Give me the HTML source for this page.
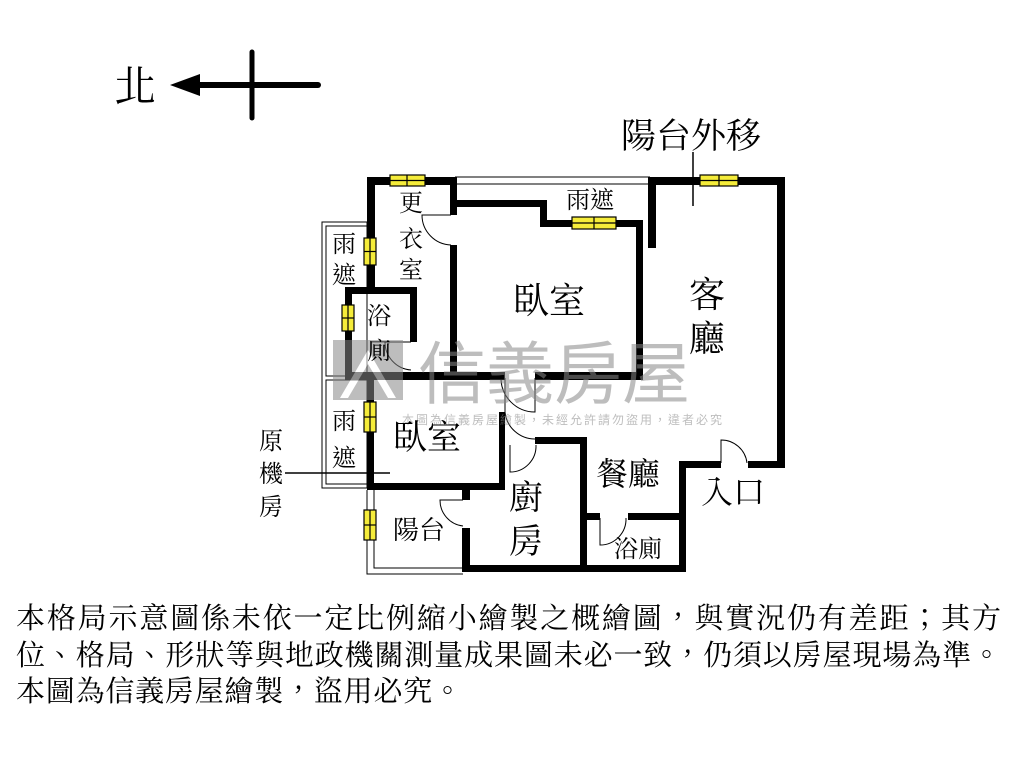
<!DOCTYPE html>
<html><head><meta charset="utf-8"><style>
html,body{margin:0;padding:0;background:#fff;width:1024px;height:768px;overflow:hidden}
svg{display:block}
.s{font-family:"Liberation Serif","Noto Serif CJK TC","Noto Serif CJK SC",serif;fill:#000}
</style></head><body>
<svg width="1024" height="768" viewBox="0 0 1024 768" xmlns="http://www.w3.org/2000/svg">
<text x="114" y="101" class="s" font-size="42">北</text>
<line x1="195" y1="85" x2="318" y2="85" stroke="#000" stroke-width="6" stroke-linecap="round"/>
<polygon points="170,85 200,74 200,96" fill="#000"/>
<line x1="252" y1="52" x2="252" y2="118" stroke="#000" stroke-width="5" stroke-linecap="round"/>

<text x="621" y="148" class="s" font-size="35">陽台外移</text>
<line x1="693" y1="152" x2="693" y2="206" stroke="#000" stroke-width="1.5"/>

<g fill="none" stroke="#000" stroke-width="1">
<rect x="322" y="222" width="45" height="266"/>
<rect x="326" y="226" width="41" height="150"/>
<rect x="326" y="380" width="41" height="104"/>
<line x1="455" y1="177" x2="650" y2="177"/>
<line x1="455" y1="184" x2="650" y2="184"/>
<polyline points="367,490 367,574 463,574"/>
<polyline points="374,490 374,568 463,568"/>
</g>

<g fill="#000">
<rect x="367" y="177" width="88" height="8"/>
<rect x="650" y="177" width="135" height="8"/>
<rect x="777" y="177" width="8" height="291"/>
<rect x="648" y="177" width="8" height="71"/>
<rect x="367" y="177" width="8" height="116"/>
<rect x="345" y="287" width="72" height="7"/>
<rect x="345" y="287" width="7" height="93"/>
<rect x="410" y="287" width="7" height="55"/>
<rect x="345" y="372" width="160" height="8"/>
<rect x="535" y="372" width="108" height="8"/>
<rect x="450" y="177" width="7" height="38"/>
<rect x="450" y="245" width="7" height="135"/>
<rect x="450" y="200" width="95" height="7"/>
<rect x="540" y="200" width="7" height="27"/>
<rect x="540" y="220" width="103" height="7"/>
<rect x="636" y="220" width="7" height="160"/>
<rect x="367" y="380" width="7" height="110"/>
<rect x="367" y="483" width="138" height="7"/>
<rect x="499" y="412" width="6" height="78"/>
<rect x="535" y="437" width="52" height="7"/>
<rect x="580" y="437" width="7" height="135"/>
<rect x="462" y="490" width="8" height="10"/>
<rect x="462" y="528" width="8" height="44"/>
<rect x="462" y="565" width="224" height="7"/>
<rect x="587" y="513" width="13" height="7"/>
<rect x="628" y="513" width="58" height="7"/>
<rect x="679" y="461" width="7" height="111"/>
<rect x="679" y="461" width="42" height="7"/>
<rect x="748" y="461" width="37" height="7"/>
</g>

<g fill="#f5ec3a" stroke="#000" stroke-width="1.2">
<rect x="390" y="175" width="35" height="11"/><line x1="407" y1="175" x2="407" y2="186"/><line x1="390" y1="180.5" x2="425" y2="180.5"/>
<rect x="700" y="175" width="38" height="11"/><line x1="719" y1="175" x2="719" y2="186"/><line x1="700" y1="180.5" x2="738" y2="180.5"/>
<rect x="572" y="217" width="44" height="12"/><line x1="594" y1="217" x2="594" y2="229"/><line x1="572" y1="223" x2="616" y2="223"/>
<rect x="364" y="238" width="12" height="27"/><line x1="370" y1="238" x2="370" y2="265"/><line x1="364" y1="251.5" x2="376" y2="251.5"/>
<rect x="342" y="305" width="12" height="26"/><line x1="348" y1="305" x2="348" y2="331"/><line x1="342" y1="318" x2="354" y2="318"/>
<rect x="364" y="402" width="12" height="30"/><line x1="370" y1="402" x2="370" y2="432"/><line x1="364" y1="417" x2="376" y2="417"/>
<rect x="364" y="510" width="12" height="30"/><line x1="370" y1="510" x2="370" y2="540"/><line x1="364" y1="525" x2="376" y2="525"/>
</g>

<g fill="none" stroke="#000" stroke-width="1">
<path d="M451,215 L422,215 A30,30 0 0 0 451,245"/>
<path d="M411,342 L385,342 A28,28 0 0 0 411,370"/>
<path d="M535,378 L535,412 A34,34 0 0 1 501,378"/>
<path d="M505,378 L505,412"/>
<path d="M505,412 A30,30 0 0 0 535,439"/>
<path d="M510,445 L510,472 A26,26 0 0 0 536,445"/>
<path d="M463,500 L440,500 A26,26 0 0 0 463,526"/>
<path d="M600,518 L600,545 A26,26 0 0 0 626,518"/>
<path d="M721,463 L721,440 A26,26 0 0 1 747,463"/>
</g>

<g opacity="0.55">
<rect x="333" y="340" width="70" height="60" fill="#888"/>
<polygon points="340,398 368,350 396,398 388,398 368,364 348,398" fill="#fff"/>
<text x="418" y="398" font-family="'Liberation Sans','Noto Sans CJK TC',sans-serif" font-size="68" fill="#888">信義房屋</text>
<text x="402" y="424" font-family="'Liberation Sans','Noto Sans CJK TC',sans-serif" font-size="12" fill="#888" letter-spacing="2">本圖為信義房屋繪製，未經允許請勿盜用，違者必究</text>
</g>

<g class="s">
<text x="399" y="211" font-size="24">更</text>
<text x="399" y="247" font-size="24">衣</text>
<text x="399" y="278" font-size="24">室</text>
<text x="566" y="208" font-size="24">雨遮</text>
<text x="332" y="252" font-size="24">雨</text>
<text x="332" y="283" font-size="24">遮</text>
<text x="367" y="324" font-size="24">浴</text>
<text x="367" y="359" font-size="24">廁</text>
<text x="513" y="313" font-size="36">臥室</text>
<text x="689" y="307" font-size="36">客</text>
<text x="689" y="351" font-size="36">廳</text>
<text x="332" y="429" font-size="24">雨</text>
<text x="332" y="466" font-size="24">遮</text>
<text x="393" y="449" font-size="34">臥室</text>
<text x="259" y="449" font-size="24">原</text>
<text x="259" y="482" font-size="24">機</text>
<text x="259" y="515" font-size="24">房</text>
<text x="596" y="485" font-size="32">餐廳</text>
<text x="509" y="509" font-size="34">廚</text>
<text x="509" y="553" font-size="34">房</text>
<text x="393" y="539" font-size="26">陽台</text>
<text x="614" y="557" font-size="24">浴廁</text>
<text x="701" y="503" font-size="32">入口</text>
</g>
<line x1="285" y1="473" x2="390" y2="473" stroke="#000" stroke-width="1.5"/>

<g class="s" font-size="29">
<text x="16" y="628" textLength="985" lengthAdjust="spacing">本格局示意圖係未依一定比例縮小繪製之概繪圖，與實況仍有差距；其方</text>
<text x="16" y="665" textLength="985" lengthAdjust="spacing">位、格局、形狀等與地政機關測量成果圖未必一致，仍須以房屋現場為準。</text>
<text x="16" y="701" textLength="446" lengthAdjust="spacing">本圖為信義房屋繪製，盜用必究。</text>
</g>
</svg>
</body></html>
